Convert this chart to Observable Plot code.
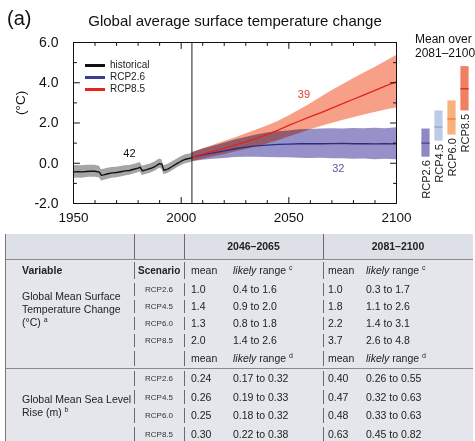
<!DOCTYPE html>
<html><head><meta charset="utf-8">
<script src="https://cdn.jsdelivr.net/npm/d3@7"></script>
<script src="https://cdn.jsdelivr.net/npm/@observablehq/plot@0.6"></script>
<style>
body{margin:0;background:#fff;font-family:"Liberation Sans",Arial,Helvetica,sans-serif;}
#wrap{position:relative;width:475px;height:441px;overflow:hidden;}
.abs{position:absolute;white-space:nowrap;line-height:1;}
#main,#side{position:absolute;left:0;top:0;}
#side{pointer-events:none;}
.lg{position:absolute;height:3px;width:20px;left:85px;}
.lgt{position:absolute;left:110px;font-size:10px;line-height:10px;color:#222;}
#tbl{position:absolute;left:5px;top:234px;border-collapse:separate;border-spacing:0;table-layout:fixed;width:467px;font-size:10.5px;color:#222;background:#e5e6ec;border-left:1px solid #777;}
#tbl td{padding:0;white-space:nowrap;overflow:hidden;line-height:13px;}
#tbl tr.hdr td{height:25px;background-color:#dde0e7;border-bottom:1px solid #8a8a8a;}
#tbl tr.r0 td{height:21px;}
#tbl tr.r td{height:17px;}
#tbl tr.m td{height:19px;}
#tbl tr.s td{height:18px;}
#tbl tr.s2 td{height:19px;}
#tbl tr.sep td{border-top:1px solid #8a8a8a;}
#tbl .vl{background-image:linear-gradient(#6a6a6a,#6a6a6a);background-size:1px calc(100% - 4px);background-position:0 2px;background-repeat:no-repeat;}
#tbl tr.hdr .vl{background-size:1px 100%;background-position:0 0;}
#tbl .b{font-weight:bold;}
#tbl .c{text-align:center;}
#tbl .p1{padding-left:16px;}
#tbl .p2{padding-left:4px;font-size:10px;}
#tbl .p3{padding-left:7px;}
#tbl .p4{padding-left:4px;}
#tbl .p5{padding-left:5px;}
#tbl .p6{padding-left:4px;}
#tbl .sc{text-align:center;font-size:8px;color:#333;}
#tbl .var{vertical-align:top;}
#tbl sup{font-size:7px;vertical-align:4px;line-height:0;}
</style></head>
<body><div id="wrap"></div>
<script>
// ---- chart data ----
const histYears = [1950,1952,1954,1956,1958,1960,1962,1963,1964,1966,1968,1970,1972,1974,1976,1978,1980,1981,1982,1984,1986,1988,1990,1991,1992,1994,1996,1998,2000,2002,2005];
const histMean  = [-0.43,-0.42,-0.43,-0.41,-0.40,-0.40,-0.44,-0.60,-0.58,-0.52,-0.48,-0.46,-0.42,-0.38,-0.36,-0.30,-0.24,-0.20,-0.38,-0.32,-0.25,-0.15,-0.02,-0.05,-0.35,-0.28,-0.15,-0.02,0.10,0.20,0.27];
const histLow   = [-0.75,-0.73,-0.74,-0.71,-0.70,-0.69,-0.72,-0.88,-0.86,-0.80,-0.75,-0.72,-0.68,-0.63,-0.60,-0.54,-0.47,-0.43,-0.61,-0.55,-0.48,-0.38,-0.25,-0.28,-0.57,-0.50,-0.37,-0.24,-0.12,-0.02,0.05];
const histHigh  = [-0.12,-0.11,-0.12,-0.10,-0.10,-0.10,-0.15,-0.32,-0.30,-0.25,-0.21,-0.20,-0.16,-0.13,-0.11,-0.06,0.00,0.04,-0.15,-0.09,-0.03,0.08,0.21,0.18,-0.12,-0.05,0.08,0.20,0.32,0.42,0.49];

const rcpYears  = [2005,2010,2015,2020,2025,2030,2035,2040,2045,2050,2055,2060,2065,2070,2075,2080,2085,2090,2095,2100];
const rcp26Mean = [0.30,0.42,0.52,0.62,0.72,0.80,0.86,0.90,0.94,0.95,0.97,0.98,0.97,0.98,0.99,0.97,0.98,0.96,0.97,0.96];
const rcp26Low  = [0.08,0.15,0.20,0.24,0.28,0.30,0.30,0.28,0.27,0.27,0.25,0.24,0.25,0.22,0.22,0.20,0.21,0.18,0.20,0.17];
const rcp26High = [0.52,0.70,0.85,1.00,1.15,1.28,1.40,1.50,1.56,1.60,1.66,1.68,1.70,1.72,1.70,1.73,1.72,1.74,1.72,1.76];
const rcp85Mean = [0.30,0.45,0.60,0.75,0.90,1.06,1.24,1.44,1.65,1.88,2.10,2.32,2.52,2.74,2.96,3.18,3.40,3.62,3.84,4.05];
const rcp85Low  = [0.08,0.20,0.32,0.44,0.56,0.68,0.82,0.96,1.12,1.30,1.48,1.66,1.82,1.98,2.12,2.26,2.40,2.52,2.64,2.75];
const rcp85High = [0.52,0.72,0.90,1.08,1.26,1.45,1.65,1.85,2.08,2.35,2.65,2.95,3.28,3.60,3.90,4.20,4.48,4.76,5.05,5.35];

const modelYears  = [1976,2073,2057];
const modelValues = [0.5,-0.25,3.4];
const modelCounts = ["42","32","39"];

const xLabels = [1950,2000,2050,2100];
const yLabels = [-2,0,2,4,6];
const xMinor = [1960,1970,1980,1990,2010,2020,2030,2040,2060,2070,2080,2090];
const xMajor = [2000,2050];
const yMinor = [-1,1,3,5];
const yMajor = [0,2,4];

// ---- table data ----
const scenarios = ["RCP2.6","RCP4.5","RCP6.0","RCP8.5"];
const periods = ["2046–2065","2081–2100"];
const tempMean46 = [1.0,1.4,1.3,2.0];
const tempLow46  = [0.4,0.9,0.8,1.4];
const tempHigh46 = [1.6,2.0,1.8,2.6];
const tempMean81 = [1.0,1.8,2.2,3.7];
const tempLow81  = [0.3,1.1,1.4,2.6];
const tempHigh81 = [1.7,2.6,3.1,4.8];
const seaMean46 = [0.24,0.26,0.25,0.30];
const seaLow46  = [0.17,0.19,0.18,0.22];
const seaHigh46 = [0.32,0.33,0.32,0.38];
const seaMean81 = [0.40,0.47,0.48,0.63];
const seaLow81  = [0.26,0.32,0.33,0.45];
const seaHigh81 = [0.55,0.63,0.63,0.82];

// ---- styles ----
const FONT = "Liberation Sans, Arial, Helvetica, sans-serif";
const barFill = ["#8e88c2","#bdcbe8","#f9b17c","#f17f62"];
const barLine = ["#4a3f8f","#8ea3d3","#f0782a","#d8281f"];
const countColors = ["#111","#5a56a2","#e2392a"];

const wrap = document.getElementById("wrap");

const hist = histYears.map((year,i)=>({year, mean:histMean[i], lo:histLow[i], hi:histHigh[i]}));
const r26 = rcpYears.map((year,i)=>({year, mean:rcp26Mean[i], lo:rcp26Low[i], hi:rcp26High[i]}));
const r85 = rcpYears.map((year,i)=>({year, mean:rcp85Mean[i], lo:rcp85Low[i], hi:rcp85High[i]}));
const counts = modelYears.map((year,i)=>({year, v:modelValues[i], t:modelCounts[i], c:countColors[i]}));

const lineShape = {draw(ctx,l){ctx.moveTo(0,0);ctx.lineTo(0,-l);}};
const tk = (data, opts) => Plot.vector(data, {shape:lineShape, anchor:"start", stroke:"#111", strokeWidth:1, ...opts});

const main = Plot.plot({
  width:475, height:232, marginTop:42, marginBottom:29, marginLeft:73, marginRight:79,
  style:{fontFamily:FONT, fontSize:"13.5px", color:"#111", background:"transparent", overflow:"visible"},
  x:{domain:[1950,2100], label:null},
  y:{domain:[-2,6], label:null},
  marks:[
    Plot.areaY(hist,{x:"year",y1:"lo",y2:"hi",fill:"#a5a5a5"}),
    Plot.areaY(r26,{x:"year",y1:"lo",y2:"hi",fill:"#9791c9"}),
    Plot.areaY(r85,{x:"year",y1:"lo",y2:"hi",fill:"#f7957a",mixBlendMode:"multiply",fillOpacity:0.9}),
    Plot.line(hist,{x:"year",y:"mean",stroke:"#111",strokeWidth:1.4}),
    Plot.line(r26,{x:"year",y:"mean",stroke:"#2e2c80",strokeWidth:1.3}),
    Plot.line(r85,{x:"year",y:"mean",stroke:"#e3231c",strokeWidth:1.3}),
    Plot.ruleX([2005],{stroke:"#222",strokeWidth:1}),
    Plot.text(counts,{x:"year",y:"v",text:"t",fill:"c",fontSize:11}),
    Plot.frame({stroke:"#111"}),
    tk(xMinor,{x:d=>d, frameAnchor:"bottom", length:3, rotate:0}),
    tk(xMajor,{x:d=>d, frameAnchor:"bottom", length:6, rotate:0}),
    tk(xMinor,{x:d=>d, frameAnchor:"top", length:3, rotate:180}),
    tk(xMajor,{x:d=>d, frameAnchor:"top", length:6, rotate:180}),
    tk(yMinor,{y:d=>d, frameAnchor:"left", length:3, rotate:90}),
    tk(yMajor,{y:d=>d, frameAnchor:"left", length:6, rotate:90}),
    tk(yMinor,{y:d=>d, frameAnchor:"right", length:3, rotate:-90}),
    tk(yMajor,{y:d=>d, frameAnchor:"right", length:6, rotate:-90}),
    Plot.axisX(xLabels,{tickSize:0, tickPadding:9, tickFormat:d=>String(d), fontSize:13.5}),
    Plot.axisY(yLabels,{tickSize:0, tickPadding:15, tickFormat:d=>d.toFixed(1), fontSize:14}),
    Plot.text(["(°C)"],{text:d=>d, frameAnchor:"left", dx:-53, dy:-8, rotate:-90, fontSize:13.5})
  ]
});
main.id = "main";
wrap.appendChild(main);

const barData = scenarios.map((s,i)=>({s, lo:tempLow81[i], hi:tempHigh81[i], m:tempMean81[i], f:barFill[i], l:barLine[i]}));
const side = Plot.plot({
  width:475, height:232, marginTop:42, marginBottom:29, marginLeft:417, marginRight:3,
  style:{fontFamily:FONT, fontSize:"11px", color:"#111", background:"transparent", overflow:"visible"},
  x:{type:"band", domain:scenarios, padding:0, axis:null},
  y:{domain:[-2,6], axis:null},
  marks:[
    Plot.barY(barData,{x:"s", y1:"lo", y2:"hi", fill:"f", insetLeft:2.4, insetRight:2.4}),
    Plot.tickY(barData,{x:"s", y:"m", stroke:"l", strokeWidth:1.3, insetLeft:2.4, insetRight:2.4}),
    Plot.text(barData,{x:"s", y:"lo", text:"s", rotate:-90, textAnchor:"end", dy:3, fontSize:11, fill:"#222"})
  ]
});
side.id = "side";
wrap.appendChild(side);

// overlay texts
function addText(txt, css){ const d=document.createElement("div"); d.className="abs"; d.textContent=txt; Object.assign(d.style, css); wrap.appendChild(d); }
addText("(a)", {left:"7px", top:"8px", fontSize:"20px", color:"#111"});
addText("Global average surface temperature change", {left:"0px", width:"470px", textAlign:"center", top:"13px", fontSize:"15px", color:"#111"});
addText("Mean over", {left:"415px", top:"33px", fontSize:"12px", color:"#111"});
addText("2081–2100", {left:"415px", top:"47px", fontSize:"12px", color:"#111"});

// legend
const legendNames = ["historical","RCP2.6","RCP8.5"];
const legendColors = ["#111","#3c3c96","#e8231d"];
legendNames.forEach((n,i)=>{
  const ln=document.createElement("div"); ln.className="lg"; ln.style.top=(63.5+12*i)+"px"; ln.style.background=legendColors[i]; wrap.appendChild(ln);
  const t=document.createElement("div"); t.className="lgt"; t.style.top=(60+12*i)+"px"; t.textContent=n; wrap.appendChild(t);
});

// table
const f1=v=>v.toFixed(1), f2=v=>v.toFixed(2);
const lr = s => `<i>likely</i> range <sup>${s}</sup>`;
let h = `<table id="tbl"><colgroup><col style="width:128px"><col style="width:50px"><col style="width:45px"><col style="width:94px"><col style="width:39px"><col style="width:111px"></colgroup>`;
h += `<tr class="hdr"><td></td><td class="vl"></td><td class="vl c b" colspan="2">${periods[0]}</td><td class="vl c b" colspan="2">${periods[1]}</td></tr>`;
h += `<tr class="r0"><td class="b p1">Variable</td><td class="vl b p2">Scenario</td><td class="vl p3">mean</td><td class="p4">${lr("c")}</td><td class="vl p5">mean</td><td class="p6">${lr("c")}</td></tr>`;
scenarios.forEach((s,i)=>{
  h += `<tr class="r">${i===0?`<td rowspan="5" class="var p1" style="padding-top:9px">Global Mean Surface<br>Temperature Change<br>(°C) <sup>a</sup></td>`:""}<td class="vl sc">${s}</td><td class="vl p3">${f1(tempMean46[i])}</td><td class="p4">${f1(tempLow46[i])} to ${f1(tempHigh46[i])}</td><td class="vl p5">${f1(tempMean81[i])}</td><td class="p6">${f1(tempLow81[i])} to ${f1(tempHigh81[i])}</td></tr>`;
});
h += `<tr class="m"><td class="vl"></td><td class="vl p3">mean</td><td class="p4">${lr("d")}</td><td class="vl p5">mean</td><td class="p6">${lr("d")}</td></tr>`;
scenarios.forEach((s,i)=>{
  const cls = (i%2===0 ? "s2" : "s") + (i===0 ? " sep" : "");
  h += `<tr class="${cls}">${i===0?`<td rowspan="4" class="var p1" style="padding-top:24px">Global Mean Sea Level<br>Rise (m) <sup>b</sup></td>`:""}<td class="vl sc">${s}</td><td class="vl p3">${f2(seaMean46[i])}</td><td class="p4">${f2(seaLow46[i])} to ${f2(seaHigh46[i])}</td><td class="vl p5">${f2(seaMean81[i])}</td><td class="p6">${f2(seaLow81[i])} to ${f2(seaHigh81[i])}</td></tr>`;
});
h += `</table>`;
wrap.insertAdjacentHTML("beforeend", h);
</script>
</body></html>
